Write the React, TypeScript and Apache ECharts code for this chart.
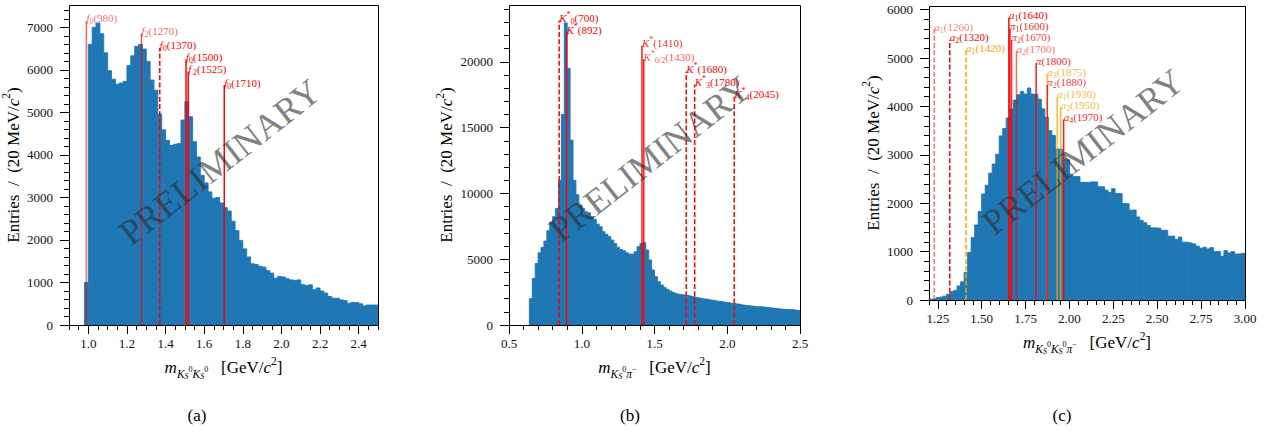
import React, { useEffect, useRef } from 'react';
import * as echarts from 'echarts';

const BIN = 0.02;

// ---------- (a) K_S K_S ----------
const aBinStart = 0.98;
const aCounts = [1000, 6600, 7000, 7100, 6850, 6400, 5980, 5780, 5660, 5690, 5730, 6100, 6330, 6550, 6600, 6490, 6200, 5760, 5520, 4960, 4590, 4340, 4220, 4250, 4270, 4820, 5250, 4900, 4310, 3950, 3520, 3340, 3130, 2980, 3000, 2870, 2760, 2680, 2440, 2220, 1990, 1790, 1600, 1440, 1420, 1380, 1360, 1280, 1220, 1100, 1140, 1130, 1090, 1060, 1050, 1060, 950, 930, 945, 830, 870, 800, 750, 670, 630, 630, 590, 575, 510, 530, 530, 500, 450, 470, 470, 470];
const aXTicks = [1.0, 1.2, 1.4, 1.6, 1.8, 2.0, 2.2, 2.4];
const aYTicks = [0, 1000, 2000, 3000, 4000, 5000, 6000, 7000];
const aLineLabels = ['{i|f}{s|0}{n|(980)}', '{i|f}{s|2}{n|(1270)}', '{i|f}{s|0}{n|(1370)}', '{i|f}{s|0}{n|(1500)}', '{i|f}{p|′}{s|2}{n|(1525)}', '{i|f}{s|0}{n|(1710)}'];
const aLineMasses = [0.99, 1.2754, 1.37, 1.506, 1.5173, 1.704];
const aLineTops = [7150, 6860, 6520, 6245, 5957, 5643];

// ---------- (b) K_S pi- ----------
const bBinStart = 0.64;
const bCounts = [2000, 3540, 4680, 5490, 5900, 6380, 7160, 7800, 8230, 8860, 11000, 16000, 22960, 19500, 14050, 11000, 9900, 9100, 8860, 8600, 8530, 8230, 8030, 7670, 7470, 7090, 6890, 6710, 6460, 6200, 5900, 5750, 5650, 5490, 5390, 5390, 5570, 5950, 6200, 6250, 5700, 4940, 4180, 3670, 3290, 3040, 2860, 2710, 2580, 2460, 2380, 2330, 2300, 2280, 2250, 2200, 2150, 2100, 2050, 2000, 1975, 1950, 1900, 1870, 1820, 1800, 1770, 1720, 1700, 1650, 1650, 1600, 1570, 1520, 1490, 1470, 1440, 1420, 1390, 1390, 1370, 1340, 1320, 1290, 1270, 1240, 1215, 1190, 1190, 1165, 1165, 1140, 1090];
const bXTicks = [0.5, 1.0, 1.5, 2.0, 2.5];
const bYTicks = [0, 5000, 10000, 15000, 20000];
const bLineLabels = ['{i|K}{p|*}{s|0}{n|(700)}', '{i|K}{p|*}{n|(892)}', '{i|K}{p|*}{n|(1410)}', '{i|K}{p|*}{s|0/2}{n|(1430)}', '', '{i|K}{p|*}{n|(1680)}', '{i|K}{p|*}{s|3}{n|(1780)}', '{i|K}{p|*}{s|4}{n|(2045)}'];
const bLineMasses = [0.845, 0.8955, 1.414, 1.425, 1.4273, 1.718, 1.776, 2.048];
const bLineTops = [23150, 22250, 21220, 20200, 20200, 19260, 18250, 17360];

// ---------- (c) K_S K_S pi- ----------
const cBinStart = 1.2;
const cCounts = [15, 20, 50, 60, 80, 120, 170, 200, 290, 375, 570, 985, 1290, 1550, 1830, 2190, 2370, 2620, 2810, 3010, 3390, 3545, 3760, 3945, 4130, 4240, 4310, 4255, 4380, 4255, 4250, 4150, 3950, 3770, 3500, 3400, 3120, 3120, 2920, 2900, 2600, 2550, 2550, 2430, 2430, 2430, 2440, 2440, 2340, 2340, 2270, 2220, 2300, 2200, 2200, 1990, 1990, 1855, 1860, 1716, 1646, 1597, 1542, 1490, 1490, 1486, 1440, 1440, 1320, 1320, 1250, 1300, 1195, 1195, 1180, 1160, 1112, 1070, 1090, 1056, 1083, 1000, 1000, 903, 1020, 973, 1000, 951, 951, 965];
const cXTicks = [1.25, 1.5, 1.75, 2.0, 2.25, 2.5, 2.75, 3.0];
const cYTicks = [0, 1000, 2000, 3000, 4000, 5000, 6000];
const cLineLabels = ['{i|a}{s|1}{n|(1260)}', '{i|a}{s|2}{n|(1320)}', '{i|a}{s|1}{n|(1420)}', '{i|a}{s|1}{n|(1640)}', '{i|π}{s|1}{n|(1600)}', '{i|π}{s|2}{n|(1670)}', '{i|a}{s|2}{n|(1700)}', '{i|π}{n|(1800)}', '{i|a}{s|3}{n|(1875)}', '{i|π}{s|2}{n|(1880)}', '{i|a}{s|1}{n|(1930)}', '{i|a}{s|2}{n|(1950)}', '{i|a}{s|4}{n|(1970)}'];
const cLineMasses = [1.23, 1.3182, 1.411, 1.655, 1.661, 1.6706, 1.698, 1.81, 1.874, 1.874, 1.93, 1.95, 1.967];
const cLineTops = [5590, 5375, 5154, 5833, 5604, 5375, 5140, 4896, 4667, 4445, 4202, 3973, 3730];

// ---------- styles ----------
const SERIF = 'Liberation Serif';
const RED = '#ff0000';
const ORANGE = '#ffa500';
const BLUE = '#1f77b4';

const aLineColors = [RED, RED, RED, RED, RED, RED];
const aLineAlphas = [0.6, 0.65, 1, 1, 1, 1];
const aLineDashed = [false, false, true, false, false, false];
const bLineColors = [RED, RED, RED, RED, RED, RED, RED, RED];
const bLineAlphas = [1, 1, 0.9, 0.7, 0.5, 1, 1, 1];
const bLineDashed = [true, false, false, false, false, true, true, true];
const cLineColors = [RED, RED, ORANGE, RED, RED, RED, RED, RED, ORANGE, RED, ORANGE, ORANGE, RED];
const cLineAlphas = [0.55, 1, 1, 1, 0.9, 0.8, 0.6, 0.9, 0.8, 0.8, 0.8, 0.8, 0.9];
const cLineDashed = [true, true, true, false, false, false, false, false, false, false, false, false, false];

function rgba(hex: string, a: number) {
  const r = parseInt(hex.slice(1, 3), 16), g = parseInt(hex.slice(3, 5), 16), b = parseInt(hex.slice(5, 7), 16);
  return `rgba(${r},${g},${b},${a})`;
}

function steps(a: number, b: number, step: number) {
  const out: number[] = [];
  for (let k = 0; a + k * step <= b + 1e-9; k++) out.push(+(a + k * step).toFixed(3));
  return out;
}

const LBL_RICH: any = {
  n: { fontFamily: SERIF, fontSize: 11, lineHeight: 11, height: 11 },
  i: { fontFamily: SERIF, fontSize: 11, fontStyle: 'italic', lineHeight: 11, height: 11 },
  s: { fontFamily: SERIF, fontSize: 8, lineHeight: 4, height: 4, verticalAlign: 'bottom' },
  p: { fontFamily: SERIF, fontSize: 8, lineHeight: 4, height: 4, verticalAlign: 'top' },
};

const NAME_RICH: any = {
  n: { fontFamily: SERIF, fontSize: 17, lineHeight: 20, height: 20, color: '#000' },
  it: { fontFamily: SERIF, fontSize: 17, fontStyle: 'italic', lineHeight: 20, height: 20, color: '#000' },
  s: { fontFamily: SERIF, fontSize: 11.5, fontStyle: 'italic', lineHeight: 8, height: 8, verticalAlign: 'bottom', color: '#000' },
  sp: { fontFamily: SERIF, fontSize: 8, lineHeight: 16, height: 16, verticalAlign: 'bottom', color: '#000' },
  ss: { fontFamily: SERIF, fontSize: 8, fontStyle: 'italic', lineHeight: 2, height: 2, verticalAlign: 'bottom', color: '#000' },
  p: { fontFamily: SERIF, fontSize: 11.5, lineHeight: 6, height: 6, verticalAlign: 'top', color: '#000' },
};

const Y_NAME = '{n|Entries  /  (20 MeV/}{it|c}{p|2}{n|)}';
const X_NAMES = [
  '{it|m}{s|K}{ss|S}{sp|0}{s|K}{ss|S}{sp|0}{n|   [GeV/}{it|c}{p|2}{n|]}',
  '{it|m}{s|K}{ss|S}{sp|0}{s|π}{sp|−}{n|   [GeV/}{it|c}{p|2}{n|]}',
  '{it|m}{s|K}{ss|S}{sp|0}{s|K}{ss|S}{sp|0}{s|π}{sp|−}{n|   [GeV/}{it|c}{p|2}{n|]}',
];

function buildOption() {
  const panels = [
    {
      grid: { left: 69, top: 5, width: 309, height: 320 },
      xMin: 0.9, xMax: 2.5, yMax: 7525, xTicks: aXTicks, xMinor: steps(0.9, 2.5, 0.05), yTicks: aYTicks, yMinor: steps(0, 7400, 200),
      digits: 1, yGap: 43, start: aBinStart, counts: aCounts,
      ll: aLineLabels, lm: aLineMasses, lt: aLineTops, lc: aLineColors, la: aLineAlphas, ld: aLineDashed,
      mark: [220, 162], letter: [197, '(a)'],
    },
    {
      grid: { left: 509, top: 5, width: 291, height: 320 },
      xMin: 0.5, xMax: 2.5, yMax: 24320, xTicks: bXTicks, xMinor: steps(0.5, 2.5, 0.1), yTicks: bYTicks, yMinor: steps(0, 24000, 1000),
      digits: 1, yGap: 50, start: bBinStart, counts: bCounts,
      ll: bLineLabels, lm: bLineMasses, lt: bLineTops, lc: bLineColors, la: bLineAlphas, ld: bLineDashed,
      mark: [650, 159], letter: [630, '(b)'],
    },
    {
      grid: { left: 929, top: 6, width: 316, height: 294 },
      xMin: 1.2, xMax: 3.0, yMax: 6075, xTicks: cXTicks, xMinor: steps(1.2, 3.0, 0.05), yTicks: cYTicks, yMinor: steps(0, 6000, 200),
      digits: 2, yGap: 42, start: cBinStart, counts: cCounts,
      ll: cLineLabels, lm: cLineMasses, lt: cLineTops, lc: cLineColors, la: cLineAlphas, ld: cLineDashed,
      mark: [1083, 152], letter: [1062, '(c)'],
    },
  ];

  const grid: any[] = [];
  const xAxis: any[] = [];
  const yAxis: any[] = [];
  const series: any[] = [];
  const graphic: any[] = [];

  panels.forEach((p, gi) => {
    grid.push({ ...p.grid, show: false, outerBoundsMode: 'none', containLabel: false });
    xAxis.push({
      type: 'value', gridIndex: gi, min: p.xMin, max: p.xMax, position: 'bottom',
      axisLine: { show: false, onZero: false },
      axisTick: { show: true, customValues: p.xTicks, length: 9, lineStyle: { color: '#000', width: 1 } },
      axisLabel: { show: true, customValues: p.xTicks, formatter: (v: number) => v.toFixed(p.digits), margin: 12, fontFamily: SERIF, fontSize: 13, color: '#111' },
      splitLine: { show: false },
      name: X_NAMES[gi], nameLocation: 'middle', nameGap: 32, nameTextStyle: { color: '#000', fontFamily: SERIF, rich: NAME_RICH },
    });
    xAxis.push({
      type: 'value', gridIndex: gi, min: p.xMin, max: p.xMax, position: 'bottom',
      axisLine: { show: false, onZero: false },
      axisTick: { show: true, customValues: p.xMinor, length: 5, lineStyle: { color: '#000', width: 1 } },
      axisLabel: { show: false }, splitLine: { show: false },
    });
    yAxis.push({
      type: 'value', gridIndex: gi, min: 0, max: p.yMax, position: 'left',
      axisLine: { show: false, onZero: false },
      axisTick: { show: true, customValues: p.yTicks, length: 9, lineStyle: { color: '#000', width: 1 } },
      axisLabel: { show: true, customValues: p.yTicks, formatter: (v: number) => String(Math.round(v)), margin: 16, fontFamily: SERIF, fontSize: 13, color: '#111' },
      splitLine: { show: false },
      name: Y_NAME, nameLocation: 'middle', nameGap: p.yGap, nameTextStyle: { color: '#000', fontFamily: SERIF, rich: NAME_RICH },
    });
    yAxis.push({
      type: 'value', gridIndex: gi, min: 0, max: p.yMax, position: 'left',
      axisLine: { show: false, onZero: false },
      axisTick: { show: true, customValues: p.yMinor, length: 5, lineStyle: { color: '#000', width: 1 } },
      axisLabel: { show: false }, splitLine: { show: false },
    });

    const counts = p.counts;
    series.push({
      type: 'custom', xAxisIndex: gi * 2, yAxisIndex: gi * 2, z: 2, silent: true, clip: true,
      data: counts.map((c, i) => [+(p.start + i * BIN).toFixed(2), c]),
      encode: { x: 0, y: 1 },
      renderItem: (params: any, api: any) => {
        const x0 = api.value(0), v = api.value(1);
        const a = api.coord([x0, v]);
        const b = api.coord([x0 + BIN, 0]);
        return { type: 'rect', shape: { x: a[0], y: a[1], width: b[0] - a[0], height: b[1] - a[1] }, style: { fill: BLUE, stroke: BLUE, lineWidth: 0.9 } };
      },
    });

    series.push({
      type: 'custom', xAxisIndex: gi * 2, yAxisIndex: gi * 2, z: 3, silent: true, clip: false,
      data: p.lm.map((m, i) => [m, p.lt[i]]),
      encode: { x: 0, y: 1 },
      renderItem: (params: any, api: any) => {
        const i = params.dataIndex;
        const m = api.value(0), top = api.value(1);
        const p0 = api.coord([m, 0]);
        const p1 = api.coord([m, top]);
        const col = rgba(p.lc[i], p.la[i]);
        const children: any[] = [{
          type: 'line', shape: { x1: p0[0], y1: p0[1], x2: p1[0], y2: p1[1] },
          style: { stroke: col, lineWidth: 1.5, lineDash: p.ld[i] ? [5, 2.2] : null },
        }];
        if (p.ll[i]) {
          children.push({
            type: 'text', x: p1[0], y: p1[1] - 2.5,
            style: { text: p.ll[i], rich: LBL_RICH, fill: col, align: 'left', verticalAlign: 'middle', fontFamily: SERIF, fontSize: 11 },
          });
        }
        return { type: 'group', children };
      },
    });

    graphic.push({
      type: 'rect', z: 50, silent: true,
      shape: { x: p.grid.left + 0.5, y: p.grid.top + 0.5, width: p.grid.width, height: p.grid.height },
      style: { fill: 'none', stroke: '#000', lineWidth: 1 },
    });
    graphic.push({
      type: 'text', z: 100, silent: true, x: p.mark[0], y: p.mark[1], rotation: 38 * Math.PI / 180,
      style: { text: 'PRELIMINARY', fontFamily: SERIF, fontSize: 36, fill: 'rgba(45,45,45,0.62)', align: 'center', verticalAlign: 'middle' },
    });
    graphic.push({
      type: 'text', z: 100, silent: true, x: p.letter[0] as number, y: 415,
      style: { text: p.letter[1] as string, fontFamily: SERIF, fontSize: 17, fill: '#000', align: 'center', verticalAlign: 'middle' },
    });
  });

  return { animation: false, backgroundColor: '#fff', textStyle: { fontFamily: SERIF }, grid, xAxis, yAxis, series, graphic };
}

export default function App() {
  const ref = useRef<HTMLDivElement>(null);
  useEffect(() => {
    document.body.style.margin = '0';
    const chart = echarts.init(ref.current!, null, { renderer: 'svg' });
    chart.setOption(buildOption() as any);
    return () => chart.dispose();
  }, []);
  return <div ref={ref} style={{ width: 1277, height: 437 }} />;
}
